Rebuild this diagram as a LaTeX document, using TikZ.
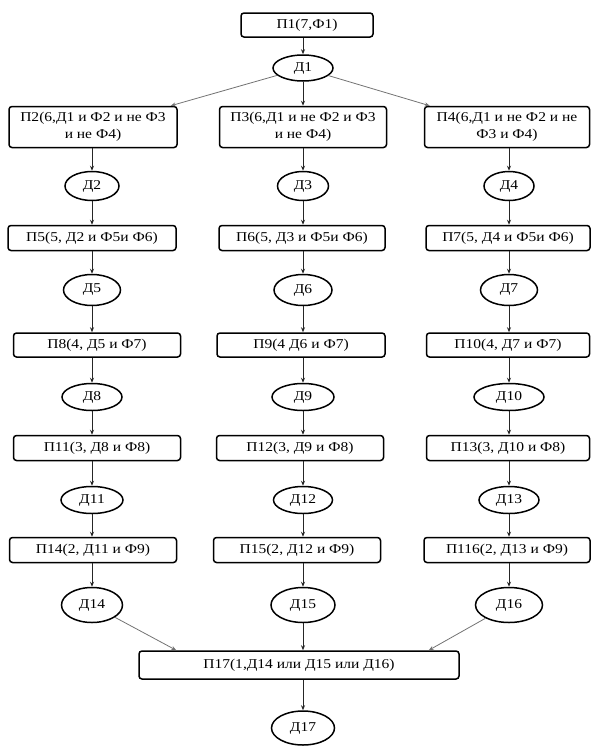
\documentclass[tikz,border=0pt]{standalone}
\usepackage{fontspec}
\setmainfont{Liberation Serif}[FakeStretch=1.15]
\usetikzlibrary{shapes.geometric,arrows.meta,calc}
\begin{document}
\begin{tikzpicture}[x=1pt,y=-1pt,
  box/.style={draw, line width=1.5pt, rounded corners=3pt, minimum height=25pt, inner sep=2pt,
    font=\fontsize{13.5}{17}\selectfont, align=center},
  oval/.style={draw, ellipse, line width=1.5pt, inner sep=0pt, font=\fontsize{13.5}{17}\selectfont},
  arr/.style={-{Stealth[length=5pt,width=4pt]}, line width=0.8pt, draw=black!85},
  garr/.style={arr, draw=black!55}]
\useasboundingbox (0,0) rectangle (591,747);
% row 0
\node[box, minimum width=132pt, minimum height=24pt] (p1) at (307,25) {П1(7,Ф1)};
\node[oval, minimum width=60pt, minimum height=26pt] (d1) at (303,68) {Д1};
% row 1
\node[box, minimum width=168pt, minimum height=41pt] (p2) at (93,127) {П2(6,Д1 и Ф2 и не Ф3\\и не Ф4)};
\node[box, minimum width=167pt, minimum height=41pt] (p3) at (303,127) {П3(6,Д1 и не Ф2 и Ф3\\и не Ф4)};
\node[box, minimum width=165pt, minimum height=41pt] (p4) at (507,127) {П4(6,Д1 и не Ф2 и не\\Ф3 и Ф4)};
\node[oval, minimum width=54pt, minimum height=29pt] (d2) at (92,186) {Д2};
\node[oval, minimum width=51pt, minimum height=29pt] (d3) at (303,186) {Д3};
\node[oval, minimum width=50pt, minimum height=29pt] (d4) at (509,186) {Д4};
% row 2
\node[box, minimum width=168pt] (p5) at (92,238) {П5(5, Д2 и Ф5и Ф6)};
\node[box, minimum width=166pt] (p6) at (302,238) {П6(5, Д3 и Ф5и Ф6)};
\node[box, minimum width=164pt] (p7) at (508,238) {П7(5, Д4 и Ф5и Ф6)};
\node[oval, minimum width=57pt, minimum height=31pt] (d5) at (92,290) {Д5};
\node[oval, minimum width=58pt, minimum height=31pt] (d6) at (303,290) {Д6};
\node[oval, minimum width=57pt, minimum height=31pt] (d7) at (509,290) {Д7};
% row 3
\node[box, minimum width=167pt, minimum height=24pt] (p8) at (97,345) {П8(4, Д5 и Ф7)};
\node[box, minimum width=168pt, minimum height=24pt] (p9) at (301,345) {П9(4 Д6 и Ф7)};
\node[box, minimum width=163pt, minimum height=24pt] (p10) at (508,345) {П10(4, Д7 и Ф7)};
\node[oval, minimum width=60pt, minimum height=27pt] (d8) at (92,397) {Д8};
\node[oval, minimum width=62pt, minimum height=27pt] (d9) at (303,397) {Д9};
\node[oval, minimum width=70pt, minimum height=27pt] (d10) at (509,397) {Д10};
% row 4
\node[box, minimum width=167pt] (p11) at (97,448) {П11(3, Д8 и Ф8)};
\node[box, minimum width=167pt] (p12) at (300,448) {П12(3, Д9 и Ф8)};
\node[box, minimum width=163pt] (p13) at (508,448) {П13(3, Д10 и Ф8)};
\node[oval, minimum width=62pt, minimum height=27pt] (d11) at (92,500) {Д11};
\node[oval, minimum width=59pt, minimum height=27pt] (d12) at (303,500) {Д12};
\node[oval, minimum width=60pt, minimum height=27pt] (d13) at (509,500) {Д13};
% row 5
\node[box, minimum width=167pt] (p14) at (93,550) {П14(2, Д11 и Ф9)};
\node[box, minimum width=167pt] (p15) at (297,550) {П15(2, Д12 и Ф9)};
\node[box, minimum width=166pt] (p116) at (507,550) {П116(2, Д13 и Ф9)};
\node[oval, minimum width=61pt, minimum height=35pt] (d14) at (92,605) {Д14};
\node[oval, minimum width=64pt, minimum height=35pt] (d15) at (303,605) {Д15};
\node[oval, minimum width=67pt, minimum height=35pt] (d16) at (509,605) {Д16};
% bottom
\node[box, minimum width=320pt, minimum height=28pt] (p17) at (299,665) {П17(1,Д14 или Д15 или Д16)};
\node[oval, minimum width=63pt, minimum height=34pt] (d17) at (303,728) {Д17};
% arrows
\draw[arr] (p1.south -| d1.north) -- (d1.north);
\draw[garr] (d1) -- ($(p2.north east)+(-7,0)$);
\draw[arr] (d1.south) -- (d1.south |- p3.north);
\draw[garr] (d1) -- ($(p4.north west)+(6,0)$);
\foreach \p/\d in {p2/d2,p3/d3,p4/d4,p5/d5,p6/d6,p7/d7,p8/d8,p9/d9,p10/d10,p11/d11,p12/d12,p13/d13,p14/d14,p15/d15,p116/d16}
  \draw[arr] (\p.south -| \d.north) -- (\d.north);
\foreach \d/\p in {d2/p5,d3/p6,d4/p7,d5/p8,d6/p9,d7/p10,d8/p11,d9/p12,d10/p13,d11/p14,d12/p15,d13/p116}
  \draw[arr] (\d.south) -- (\d.south |- \p.north);
\draw[garr] (d14) -- ($(p17.north west)+(38,0)$);
\draw[arr] (d15.south) -- (d15.south |- p17.north);
\draw[garr] (d16) -- ($(p17.north east)+(-31,0)$);
\draw[arr] (p17.south -| d17.north) -- (d17.north);
\end{tikzpicture}
\end{document}
